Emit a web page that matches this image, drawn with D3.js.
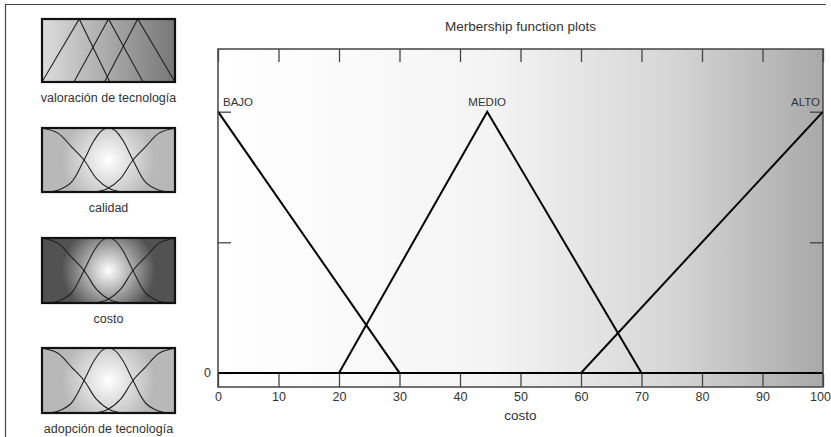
<!DOCTYPE html>
<html>
<head>
<meta charset="utf-8">
<script src="https://cdn.jsdelivr.net/npm/d3@7"></script>
<style>
  body { margin: 0; background: #fff; }
  text { font-family: "Liberation Sans", Arial, sans-serif; fill: #333; }
</style>
</head>
<body>
<script>
// membership functions of "costo" (vertices)
const mfNames = ["BAJO", "MEDIO", "ALTO"];
const bajo  = [[0, 1], [30, 0], [100, 0]];
const medio = [[0, 0], [20, 0], [44.5, 1], [70, 0], [100, 0]];
const alto  = [[0, 0], [60, 0], [100, 1]];
const xTicks = [0, 10, 20, 30, 40, 50, 60, 70, 80, 90, 100];
const yTicks = [0, 0.5, 1];
const yTickLabels = ["0", "", ""];

// small icons on the left (variable names + curve samples, box units 0..1)
const varNames = ["valoración de tecnología", "calidad", "costo", "adopción de tecnología"];
const triA = [[0, 0], [0.28, 1], [0.51, 0]];
const triB = [[0.24, 0], [0.5, 1], [0.76, 0]];
const triC = [[0.47, 0], [0.72, 1], [1, 0]];
const bellLeft  = [[0, 1], [0.12, 0.92], [0.22, 0.71], [0.316, 0.5], [0.41, 0.21], [0.51, 0.05], [0.6, 0]];
const bellMid   = [[0.06, 0], [0.125, 0.03], [0.22, 0.15], [0.316, 0.5], [0.39, 0.8], [0.45, 0.96], [0.5, 1],
                   [0.55, 0.96], [0.61, 0.8], [0.684, 0.5], [0.78, 0.15], [0.875, 0.03], [0.94, 0]];
const bellRight = [[0.4, 0], [0.49, 0.05], [0.59, 0.21], [0.684, 0.5], [0.78, 0.71], [0.88, 0.92], [1, 1]];

const width = 831, height = 437;
const svg = d3.select("body").append("svg")
    .attr("width", width)
    .attr("height", height);

const defs = svg.append("defs");

// plot background gradient
const bg = defs.append("linearGradient").attr("id", "plotBg");
bg.append("stop").attr("offset", "0%").attr("stop-color", "#ffffff");
bg.append("stop").attr("offset", "45%").attr("stop-color", "#f4f4f4");
bg.append("stop").attr("offset", "75%").attr("stop-color", "#d6d6d6");
bg.append("stop").attr("offset", "100%").attr("stop-color", "#a9a9a9");

const triBg = defs.append("linearGradient").attr("id", "triBg");
triBg.append("stop").attr("offset", "0%").attr("stop-color", "#dcdcdc");
triBg.append("stop").attr("offset", "100%").attr("stop-color", "#777777");

const boxX0 = 42, boxX1 = 175;

function radial(id, cy, edge) {
  const g = defs.append("radialGradient").attr("id", id)
      .attr("gradientUnits", "userSpaceOnUse")
      .attr("cx", (boxX0 + boxX1) / 2).attr("cy", cy).attr("r", 62);
  g.append("stop").attr("offset", "0%").attr("stop-color", "#ffffff");
  g.append("stop").attr("offset", "75%").attr("stop-color", edge);
  g.append("stop").attr("offset", "100%").attr("stop-color", edge);
}

// outer frame
svg.append("path")
    .attr("d", "M5.5,437 L5.5,4.5 L826,4.5")
    .attr("fill", "none")
    .attr("stroke", "#444")
    .attr("stroke-width", 1.2);

// ---- left panel icons
const boxes = [
  { y0: 19, y1: 82, edge: null, curves: [triA, triB, triC], smooth: false },
  { y0: 128, y1: 192, edge: "#b8b8b8", curves: [bellLeft, bellMid, bellRight], smooth: true },
  { y0: 238, y1: 303, edge: "#525252", curves: [bellLeft, bellMid, bellRight], smooth: true },
  { y0: 348, y1: 413, edge: "#b8b8b8", curves: [bellLeft, bellMid, bellRight], smooth: true }
];

boxes.forEach((b, i) => {
  const ix = d3.scaleLinear().domain([0, 1]).range([boxX0, boxX1]);
  const iy = d3.scaleLinear().domain([0, 1]).range([b.y1, b.y0]);
  let fill = "url(#triBg)";
  if (b.edge) {
    radial("bell" + i, (b.y0 + b.y1) / 2, b.edge);
    fill = "url(#bell" + i + ")";
  }
  const g = svg.append("g");
  g.append("rect")
      .attr("x", boxX0).attr("y", b.y0)
      .attr("width", boxX1 - boxX0).attr("height", b.y1 - b.y0)
      .attr("fill", fill);
  const line = d3.line().x(d => ix(d[0])).y(d => iy(d[1]))
      .curve(b.smooth ? d3.curveCatmullRom : d3.curveLinear);
  g.selectAll("path.c").data(b.curves).enter().append("path")
      .attr("class", "c")
      .attr("d", line)
      .attr("fill", "none")
      .attr("stroke", "#222")
      .attr("stroke-width", 1.1);
  g.append("rect")
      .attr("x", boxX0).attr("y", b.y0)
      .attr("width", boxX1 - boxX0).attr("height", b.y1 - b.y0)
      .attr("fill", "none")
      .attr("stroke", "#111")
      .attr("stroke-width", 2.2);
  g.append("text")
      .attr("x", (boxX0 + boxX1) / 2)
      .attr("y", b.y1 + 20)
      .attr("text-anchor", "middle")
      .attr("font-size", 12.5)
      .text(varNames[i]);
});

// ---- main plot
const plotL = 218, plotR = 823, plotT = 49, plotB = 387;
const xScale = d3.scaleLinear().domain([0, 100]).range([plotL, plotR]);
const yScale = d3.scaleLinear().domain([-0.054, 1.24]).range([plotB, plotT]);

svg.append("rect")
    .attr("x", plotL).attr("y", plotT)
    .attr("width", plotR - plotL).attr("height", plotB - plotT)
    .attr("fill", "url(#plotBg)");

const tickLen = 13;
const xAxisB = d3.axisBottom(xScale).tickValues(xTicks).tickSizeInner(-tickLen).tickSizeOuter(0).tickPadding(5);
const xAxisT = d3.axisTop(xScale).tickValues(xTicks).tickSizeInner(-tickLen).tickSizeOuter(0).tickFormat("");
const yAxisL = d3.axisLeft(yScale).tickValues(yTicks).tickSizeInner(-tickLen).tickSizeOuter(0)
    .tickFormat((d, i) => yTickLabels[i]).tickPadding(7);
const yAxisR = d3.axisRight(yScale).tickValues(yTicks).tickSizeInner(-tickLen).tickSizeOuter(0).tickFormat("");

function styleAxis(g) {
  g.select(".domain").remove();
  g.selectAll(".tick line").attr("stroke", "#444").attr("stroke-width", 1.3);
  g.selectAll(".tick text").attr("font-size", 12.5).attr("fill", "#333")
      .attr("font-family", "Liberation Sans, Arial, sans-serif");
}

const gx = svg.append("g").attr("transform", `translate(0,${plotB})`).call(xAxisB).call(styleAxis);
// keep the last label inside the window
gx.selectAll(".tick text").filter(d => d === 100).attr("dx", -3);
svg.append("g").attr("transform", `translate(0,${plotT})`).call(xAxisT).call(styleAxis);
svg.append("g").attr("transform", `translate(${plotL},0)`).call(yAxisL).call(styleAxis);
svg.append("g").attr("transform", `translate(${plotR},0)`).call(yAxisR).call(styleAxis);

// membership lines
const mfLine = d3.line().x(d => xScale(d[0])).y(d => yScale(d[1]));
svg.selectAll("path.mf").data([bajo, medio, alto]).enter().append("path")
    .attr("class", "mf")
    .attr("d", mfLine)
    .attr("fill", "none")
    .attr("stroke", "#000")
    .attr("stroke-width", 2);

// labels of the functions, at their peaks
const peaks = [bajo[0], medio[2], alto[2]];
const anchors = ["start", "middle", "end"];
const dx = [5, 0, -3];
svg.selectAll("text.mfl").data(mfNames).enter().append("text")
    .attr("class", "mfl")
    .attr("x", (d, i) => xScale(peaks[i][0]) + dx[i])
    .attr("y", (d, i) => yScale(peaks[i][1]) - 6)
    .attr("text-anchor", (d, i) => anchors[i])
    .attr("font-size", 11.5)
    .text(d => d);

// plot border
svg.append("rect")
    .attr("x", plotL).attr("y", plotT)
    .attr("width", plotR - plotL).attr("height", plotB - plotT)
    .attr("fill", "none")
    .attr("stroke", "#444")
    .attr("stroke-width", 1.5);

// title and axis label
svg.append("text")
    .attr("x", (plotL + plotR) / 2)
    .attr("y", 31)
    .attr("text-anchor", "middle")
    .attr("font-size", 13.5)
    .text("Merbership function plots");

svg.append("text")
    .attr("x", (plotL + plotR) / 2)
    .attr("y", 420)
    .attr("text-anchor", "middle")
    .attr("font-size", 13.5)
    .text("costo");
</script>
</body>
</html>
